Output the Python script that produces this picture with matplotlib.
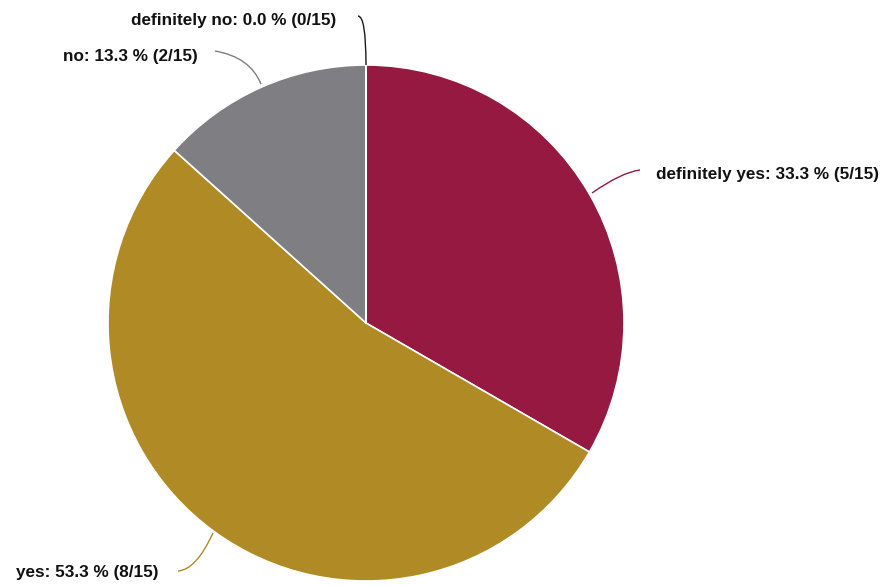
import matplotlib
matplotlib.use("Agg")
import matplotlib.pyplot as plt
from matplotlib.path import Path
from matplotlib.patches import PathPatch

# 데이터
labels = ['definitely yes', 'yes', 'no', 'definitely no']
counts = [5, 8, 2, 0]
total = 15
colors = ['#951941', '#b08a24', '#7f7e83', '#1a1a1a']

H = 586
fig = plt.figure(figsize=(8.88, 5.86), dpi=100)
ax = fig.add_axes([0, 0, 1, 1])
ax.set_xlim(0, 888)
ax.set_ylim(0, H)
ax.set_aspect('equal')
ax.axis('off')

cx, cy, r = 366, H - 323, 258
ax.pie(counts, colors=colors, startangle=90, counterclock=False,
       center=(cx, cy), radius=r,
       wedgeprops=dict(edgecolor='white', linewidth=1.2))
ax.set_xlim(0, 888)
ax.set_ylim(0, H)

# 라벨 위치 (픽셀) 와 연결선
label_pos = [(656, 175, 'left'), (16, 572, 'left'), (63, 56, 'left'), (131, 20, 'left')]
connectors = [
    [(592, 193), (622, 172), (640, 170)],
    [(213, 533), (196, 570), (178, 571)],
    [(261, 84), (250, 57), (215, 51)],
    [(366, 65), (366, 16), (358, 16)],
]

for lab, c, col, (x, y, ha), pts in zip(labels, counts, colors, label_pos, connectors):
    txt = f'{lab}: {c / total * 100:.1f} % ({c}/{total})'
    ax.text(x, H - y, txt, ha=ha, va='center', fontsize=12.3,
            fontweight='bold', family='Liberation Sans', color='#111111')
    verts = [(px, H - py) for px, py in pts]
    path = Path(verts, [Path.MOVETO, Path.CURVE3, Path.CURVE3])
    ax.add_patch(PathPatch(path, facecolor='none', edgecolor=col, lw=1))

fig.savefig('out.png', dpi=100)
